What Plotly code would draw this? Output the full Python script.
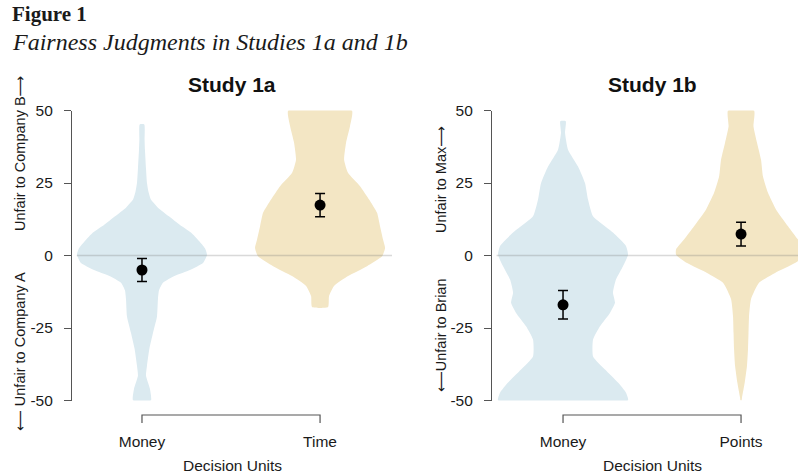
import plotly.graph_objects as go

# ---- data -------------------------------------------------------------
study_titles = ["Study 1a", "Study 1b"]
units_1a = ["Money", "Time"]
units_1b = ["Money", "Points"]
means_1a = [-5.0, 17.4]
ci_1a = [4.0, 4.0]
means_1b = [-17.0, 7.4]
ci_1b = [4.9, 4.1]
y_ticks = [-50, -25, 0, 25, 50]

# density profiles (judgment level, relative density)
money_1a_y = [45.2, 40, 36.5, 30, 25, 22, 19.3, 16.5, 13.5, 10.5, 7.9, 5, 2.5, 0.3,
              -2.6, -5, -7, -9.4, -12, -15, -21, -26.7, -32, -38, -41.5, -46, -50]
money_1a_d = [0.035, 0.04, 0.046, 0.062, 0.077, 0.10, 0.138, 0.246, 0.415, 0.585, 0.754,
              0.877, 0.969, 1.0, 0.938, 0.738, 0.508, 0.323, 0.262, 0.246, 0.231, 0.169,
              0.115, 0.077, 0.062, 0.123, 0.138]
time_1a_y = [50, 44.5, 38.9, 33, 28.5, 23.9, 19.3, 14.7, 10.1, 5.5, 2.6, -0.3, -3.7,
             -7.1, -10.5, -14, -17.8]
time_1a_d = [0.49, 0.46, 0.40, 0.37, 0.43, 0.615, 0.754, 0.877, 0.923, 0.969, 1.0, 0.954,
             0.723, 0.431, 0.215, 0.138, 0.123]
money_1b_y = [46.3, 42.3, 36.5, 30.7, 25, 19.3, 13.5, 7.9, 3.3, 0.3, -3.7, -8.3, -12.8,
              -16.3, -19.8, -24.4, -29, -34.8, -39.3, -43.8, -47.3, -50]
money_1b_d = [0.042, 0.031, 0.077, 0.231, 0.338, 0.385, 0.462, 0.769, 0.969, 1.0, 0.923,
              0.815, 0.769, 0.80, 0.723, 0.569, 0.462, 0.462, 0.646, 0.846, 0.969, 1.0]
points_1b_y = [50, 44.5, 38.9, 33, 27.2, 21.6, 15.9, 10.1, 5.5, 2.1, 0.3, -2.6, -6, -9.4,
               -15, -21, -26.7, -32, -38, -43.8, -49, -50]
points_1b_d = [0.2, 0.192, 0.246, 0.308, 0.338, 0.415, 0.538, 0.723, 0.877, 1.0, 1.0, 0.83,
               0.523, 0.277, 0.154, 0.123, 0.115, 0.108, 0.092, 0.057, 0.015, 0.008]

# ---- style ------------------------------------------------------------
W, H = 798, 473
BLUE = "#dbeaf0"
TAN = "#f3e6c4"
AXIS = "#555555"
TEXT = "#1a1a1a"
SANS = "Liberation Sans, Arial, sans-serif"
SERIF = "Liberation Serif, Times New Roman, serif"
ARROW_FONT = "DejaVu Sans"
HALF = 0.365  # widest half-width of a violin, in category units


def px(x):
    return x / W


def py(y):
    return 1 - y / H


def arrow(ch):
    return f'<span style="font-family:{ARROW_FONT}">{ch}</span>'


def violin(pos, ys, dens, color, xa, ya):
    right = [pos + HALF * d for d in dens]
    left = [pos - HALF * d for d in dens]
    xs = right + left[::-1] + [right[0]]
    yy = ys + ys[::-1] + [ys[0]]
    return go.Scatter(x=xs, y=yy, mode="lines", fill="toself", fillcolor=color,
                      line=dict(width=0, color=color, shape="spline", smoothing=0.5),
                      hoverinfo="skip", showlegend=False, xaxis=xa, yaxis=ya)


def means(vals, ci, xa, ya):
    return go.Scatter(x=[0, 1], y=vals, mode="markers",
                      marker=dict(size=11, color="black"),
                      error_y=dict(type="data", array=ci, color="black", thickness=1.5, width=5),
                      showlegend=False, xaxis=xa, yaxis=ya, cliponaxis=False)


fig = go.Figure()
fig.add_trace(violin(0, money_1a_y, money_1a_d, BLUE, "x", "y"))
fig.add_trace(violin(1, time_1a_y, time_1a_d, TAN, "x", "y"))
fig.add_trace(violin(0, money_1b_y, money_1b_d, BLUE, "x2", "y2"))
fig.add_trace(violin(1, points_1b_y, points_1b_d, TAN, "x2", "y2"))
fig.add_trace(means(means_1a, ci_1a, "x", "y"))
fig.add_trace(means(means_1b, ci_1b, "x2", "y2"))

y_dom = [py(400.5), py(110.5)]
yax = dict(range=[-50, 50], domain=y_dom, tickvals=y_ticks, ticktext=[str(t) for t in y_ticks],
           showline=True, linecolor=AXIS, linewidth=1.2, ticks="outside", ticklen=7,
           tickcolor=AXIS, tickwidth=1.2, showgrid=False, zeroline=False, automargin=False,
           ticklabelstandoff=8, tickfont=dict(family=SANS, size=15.5, color=TEXT))
xax = dict(tickvals=[0, 1], ticks="", showline=False, showgrid=False, zeroline=False,
           automargin=False, ticklabelstandoff=30,
           tickfont=dict(family=SANS, size=15.5, color=TEXT))

fig.update_layout(
    width=W, height=H, autosize=False, margin=dict(l=0, r=0, t=0, b=0, pad=0),
    paper_bgcolor="white", plot_bgcolor="white",
    xaxis=dict(xax, domain=[px(72), px(392)], range=[-0.393, 1.404], ticktext=units_1a,
               anchor="y"),
    yaxis=dict(yax, anchor="x"),
    xaxis2=dict(xax, domain=[px(492), 1.0], range=[-0.399, 1.32], ticktext=units_1b,
                anchor="y2"),
    yaxis2=dict(yax, anchor="x2"),
)

shapes = []
for xr, yr in (("x", "y"), ("x2", "y2")):
    # reference line at zero
    shapes.append(dict(type="line", xref=f"{xr} domain", yref=yr, x0=0.015, x1=1, y0=0, y1=0,
                       line=dict(color="rgba(120,120,120,0.28)", width=1.5), layer="above"))
    # bracket joining the two categories
    shapes.append(dict(type="path", xref=xr, yref="paper",
                       path=f"M 0,{py(423)} L 0,{py(415)} L 1,{py(415)} L 1,{py(423)}",
                       line=dict(color=AXIS, width=1.2)))
fig.update_layout(shapes=shapes)

ann = []
ann.append(dict(text="<b>Figure 1</b>", x=px(10), y=py(14), xanchor="left", yanchor="middle",
                font=dict(family=SERIF, size=21, color=TEXT)))
ann.append(dict(text="<i>Fairness Judgments in Studies 1a and 1b</i>", x=px(10), y=py(42),
                xanchor="left", yanchor="middle", font=dict(family=SERIF, size=24, color=TEXT)))
for title, cx in zip(study_titles, (232, 652)):
    ann.append(dict(text=f"<b>{title}</b>", x=px(cx), y=py(84), xanchor="center",
                    yanchor="middle", font=dict(family=SANS, size=21, color="#111111")))
    ann.append(dict(text="Decision Units", x=px(cx), y=py(465), xanchor="center",
                    yanchor="middle", font=dict(family=SANS, size=15.5, color=TEXT)))
for text, cx, cy in (("Unfair to Company B" + arrow("\u27f6"), 20, 153),
                     (arrow("\u27f5") + " Unfair to Company A", 20, 352),
                     ("Unfair to Max" + arrow("\u27f6"), 441, 180),
                     (arrow("\u27f5") + "Unfair to Brian", 441, 336)):
    ann.append(dict(text=text, x=px(cx), y=py(cy), textangle=-90, xanchor="center",
                    yanchor="middle", font=dict(family=SANS, size=14.5, color=TEXT)))
for a in ann:
    a.update(xref="paper", yref="paper", showarrow=False)
fig.update_layout(annotations=ann)

fig.write_html("out.html")
